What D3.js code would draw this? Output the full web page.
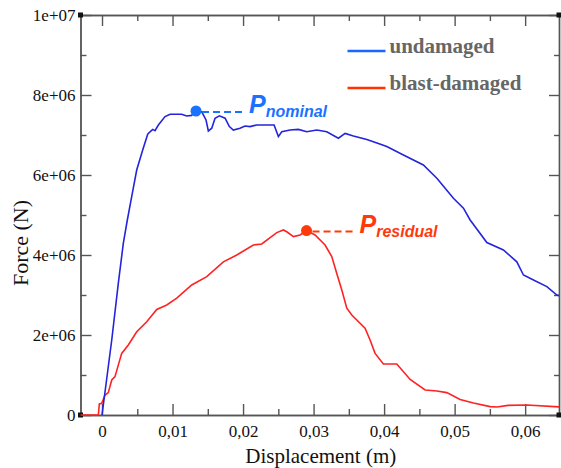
<!DOCTYPE html>
<html>
<head>
<meta charset="utf-8">
<script src="https://cdn.jsdelivr.net/npm/d3@7"></script>
<style>
  body { margin: 0; background: #fff; }
  .serif { font-family: "Liberation Serif", "Times New Roman", Times, "DejaVu Serif", serif; }
</style>
</head>
<body>
<div id="forcechart"></div>
<script>
// data: displacement (m) and force (N)

const undamagedDisp = [0, 0.00138, 0.00231, 0.00302, 0.00359, 0.00421, 0.00492, 0.00577, 0.00648, 0.00681,
  0.00719, 0.00752, 0.00799, 0.00894, 0.00965, 0.0113, 0.0120, 0.0127, 0.01333, 0.01414,
  0.01475, 0.01508, 0.01556, 0.01603, 0.01664, 0.01745, 0.01806, 0.01862, 0.01957, 0.02028,
  0.02099, 0.02194, 0.02336, 0.0244, 0.02501, 0.02549, 0.02667, 0.02784, 0.02904, 0.03045,
  0.03187, 0.03352, 0.03447, 0.03565, 0.03755, 0.03919, 0.04038, 0.04274, 0.04557, 0.04748,
  0.04983, 0.05125, 0.0522, 0.05457, 0.05692, 0.05882, 0.05976, 0.06118, 0.06308, 0.0645, 0.065];
const undamagedForce = [0, 1.875e6, 3.29e6, 4.29e6, 4.875e6, 5.46e6, 6.125e6, 6.625e6, 7.02e6, 7.08e6,
  7.14e6, 7.11e6, 7.25e6, 7.46e6, 7.52e6, 7.52e6, 7.475e6, 7.49e6, 7.6e6, 7.58e6,
  7.375e6, 7.1e6, 7.17e6, 7.42e6, 7.48e6, 7.42e6, 7.21e6, 7.125e6, 7.17e6, 7.225e6,
  7.21e6, 7.25e6, 7.25e6, 7.25e6, 6.96e6, 7.08e6, 7.125e6, 7.14e6, 7.08e6, 7.125e6,
  7.08e6, 6.92e6, 7.04e6, 6.975e6, 6.89e6, 6.79e6, 6.71e6, 6.5e6, 6.25e6, 5.92e6,
  5.42e6, 5.17e6, 4.875e6, 4.31e6, 4.125e6, 3.83e6, 3.5e6, 3.375e6, 3.21e6, 3.0e6, 2.975e6];

const damagedDisp = [-0.0031, -0.00052, -0.00038, -0.00004, 0.00043, 0.00089, 0.00138, 0.00184, 0.00279, 0.00373,
  0.00492, 0.00634, 0.00776, 0.00918, 0.0106, 0.01272, 0.01485, 0.01721, 0.01911, 0.02146,
  0.02265, 0.02478, 0.02572, 0.0262, 0.02714, 0.02809, 0.029, 0.03021, 0.03163, 0.03258,
  0.03329, 0.034, 0.03471, 0.03542, 0.0373, 0.03801, 0.03872, 0.0399, 0.0418, 0.04369,
  0.04582, 0.04748, 0.04889, 0.05078, 0.05267, 0.05504, 0.056, 0.05759, 0.06024, 0.065];
const damagedForce = [0, 0, 0.275e6, 0.29e6, 0.5e6, 0.56e6, 0.875e6, 0.96e6, 1.54e6, 1.75e6,
  2.08e6, 2.33e6, 2.64e6, 2.75e6, 2.92e6, 3.25e6, 3.46e6, 3.83e6, 4.0e6, 4.25e6,
  4.275e6, 4.56e6, 4.625e6, 4.58e6, 4.46e6, 4.5e6, 4.61e6, 4.5e6, 4.25e6, 3.96e6,
  3.54e6, 3.125e6, 2.67e6, 2.5e6, 2.17e6, 1.875e6, 1.54e6, 1.275e6, 1.275e6, 0.89e6,
  0.625e6, 0.6e6, 0.56e6, 0.39e6, 0.3e6, 0.21e6, 0.2e6, 0.24e6, 0.25e6, 0.2e6];

// annotated points
const nominalPoint = [0.01333, 7.6e6];
const residualPoint = [0.029, 4.61e6];

// ticks
const xMajorTicks = [0, 0.01, 0.02, 0.03, 0.04, 0.05, 0.06];
const xMinorTicks = [0.005, 0.015, 0.025, 0.035, 0.045, 0.055];
const yMajorTicks = [0, 2e6, 4e6, 6e6, 8e6, 1e7];
const yMinorTicks = [1e6, 3e6, 5e6, 7e6, 9e6];
const yTickLabels = ["0", "2e+06", "4e+06", "6e+06", "8e+06", "1e+07"];

const legendLabels = ["undamaged", "blast-damaged"];

// Set dimensions and margins for the chart
const margin = { top: 15, right: 2, bottom: 53, left: 80.5 };
const width = 561 - margin.left - margin.right;
const height = 468 - margin.top - margin.bottom;

const axisColor = "#555";
const curveBlue = "#2424dc";
const curveRed = "#ff2222";
const noteBlue = "#1a72ff";
const noteRed = "#ff3a0a";

const svg = d3.select("#forcechart")
  .append("svg")
    .attr("width", width + margin.left + margin.right)
    .attr("height", height + margin.top + margin.bottom)
  .append("g")
    .attr("transform", `translate(${margin.left},${margin.top})`);

const x = d3.scaleLinear()
  .domain([-0.00305, 0.0648])
  .range([0, width]);

const y = d3.scaleLinear()
  .domain([0, 1e7])
  .range([height, 0]);

// axes, ticks pointing inward on all four sides
function styleAxis(g) {
  g.attr("font-family", null).attr("font-size", null).attr("class", "serif");
  g.selectAll("path, line").attr("stroke", axisColor).attr("stroke-width", 1.4);
  g.selectAll("text")
    .attr("fill", "#111")
    .style("font-size", "17px");
}

const fmtX = d => d === 0 ? "0" : d3.format(".2f")(d).replace(".", ",");

svg.append("g")
  .attr("transform", `translate(0,${height})`)
  .call(d3.axisBottom(x).tickValues(xMajorTicks).tickSize(-11).tickSizeOuter(0).tickPadding(10).tickFormat(fmtX))
  .call(styleAxis);
svg.append("g")
  .attr("transform", `translate(0,${height})`)
  .call(d3.axisBottom(x).tickValues(xMinorTicks).tickSize(-6).tickSizeOuter(0).tickFormat(""))
  .call(styleAxis);

svg.append("g")
  .call(d3.axisTop(x).tickValues(xMajorTicks).tickSize(-11).tickSizeOuter(0).tickFormat(""))
  .call(styleAxis);
svg.append("g")
  .call(d3.axisTop(x).tickValues(xMinorTicks).tickSize(-6).tickSizeOuter(0).tickFormat(""))
  .call(styleAxis);

svg.append("g")
  .call(d3.axisLeft(y).tickValues(yMajorTicks).tickSize(-11).tickSizeOuter(0).tickPadding(5)
    .tickFormat((d, i) => yTickLabels[i]))
  .call(styleAxis);
svg.append("g")
  .call(d3.axisLeft(y).tickValues(yMinorTicks).tickSize(-6).tickSizeOuter(0).tickFormat(""))
  .call(styleAxis);

svg.append("g")
  .attr("transform", `translate(${width},0)`)
  .call(d3.axisRight(y).tickValues(yMajorTicks).tickSize(-10).tickSizeOuter(0).tickFormat(""))
  .call(styleAxis);
svg.append("g")
  .attr("transform", `translate(${width},0)`)
  .call(d3.axisRight(y).tickValues(yMinorTicks).tickSize(-5).tickSizeOuter(0).tickFormat(""))
  .call(styleAxis);

// little black squares at the corners
svg.selectAll(".corner")
  .data([[0, 0], [width, 0], [0, height], [width, height]])
  .enter()
  .append("rect")
    .attr("x", d => d[0] - 2.5)
    .attr("y", d => d[1] - 2.5)
    .attr("width", 5)
    .attr("height", 5)
    .attr("fill", "#111");

// axis titles
svg.append("text")
  .attr("class", "serif")
  .attr("x", width / 2 + 1)
  .attr("y", height + 48)
  .attr("text-anchor", "middle")
  .style("font-size", "21px")
  .attr("fill", "#111")
  .text("Displacement (m)");

svg.append("text")
  .attr("class", "serif")
  .attr("transform", `translate(${-53},${height / 2 + 28}) rotate(-90)`)
  .attr("text-anchor", "middle")
  .style("font-size", "22px")
  .attr("fill", "#111")
  .text("Force (N)");

// curves
svg.append("clipPath")
  .attr("id", "clip")
  .append("rect")
    .attr("width", width)
    .attr("height", height + 2)
    .attr("y", -1);

const line = d3.line()
  .x(d => x(d[0]))
  .y(d => y(d[1]));

const undamaged = undamagedDisp.map((d, i) => [d, undamagedForce[i]]);
const damaged = damagedDisp.map((d, i) => [d, damagedForce[i]]);

svg.append("path")
  .datum(damaged)
  .attr("clip-path", "url(#clip)")
  .attr("d", line)
  .attr("fill", "none")
  .attr("stroke", curveRed)
  .attr("stroke-width", 1.6);

svg.append("path")
  .datum(undamaged)
  .attr("clip-path", "url(#clip)")
  .attr("d", line)
  .attr("fill", "none")
  .attr("stroke", curveBlue)
  .attr("stroke-width", 1.6);

// annotations
function annotate(pt, color, sub) {
  const px = x(pt[0]), py = y(pt[1]);
  svg.append("line")
    .attr("x1", px + 6).attr("x2", px + 47)
    .attr("y1", py + 1).attr("y2", py + 1)
    .attr("stroke", color)
    .attr("stroke-width", 2)
    .attr("stroke-dasharray", "7,4");
  svg.append("circle")
    .attr("cx", px).attr("cy", py)
    .attr("r", 5.5)
    .attr("fill", color);
  const t = svg.append("text")
    .attr("x", px + 53)
    .attr("y", py + 2)
    .attr("fill", color)
    .style("font-family", "'Liberation Sans', Arial, sans-serif")
    .style("font-weight", "bold")
    .style("font-style", "italic");
  t.append("tspan").style("font-size", "25px").text("P");
  t.append("tspan").attr("dy", 4).style("font-size", "16px").text(sub);
}

annotate(nominalPoint, noteBlue, "nominal");
annotate(residualPoint, noteRed, "residual");

// legend
const legend = svg.selectAll(".legend")
  .data(legendLabels)
  .enter()
  .append("g")
    .attr("transform", (d, i) => `translate(${267},${36 + i * 37})`);

legend.append("line")
  .attr("x1", 0).attr("x2", 38)
  .attr("y1", 0).attr("y2", 0)
  .attr("stroke", (d, i) => i === 0 ? "#1a66ff" : "#ff3300")
  .attr("stroke-width", 2.5);

legend.append("text")
  .attr("class", "serif")
  .attr("x", 42)
  .attr("y", 2)
  .attr("fill", "#666")
  .style("font-weight", "bold")
  .style("font-size", "21px")
  .text(d => d);
</script>
</body>
</html>
